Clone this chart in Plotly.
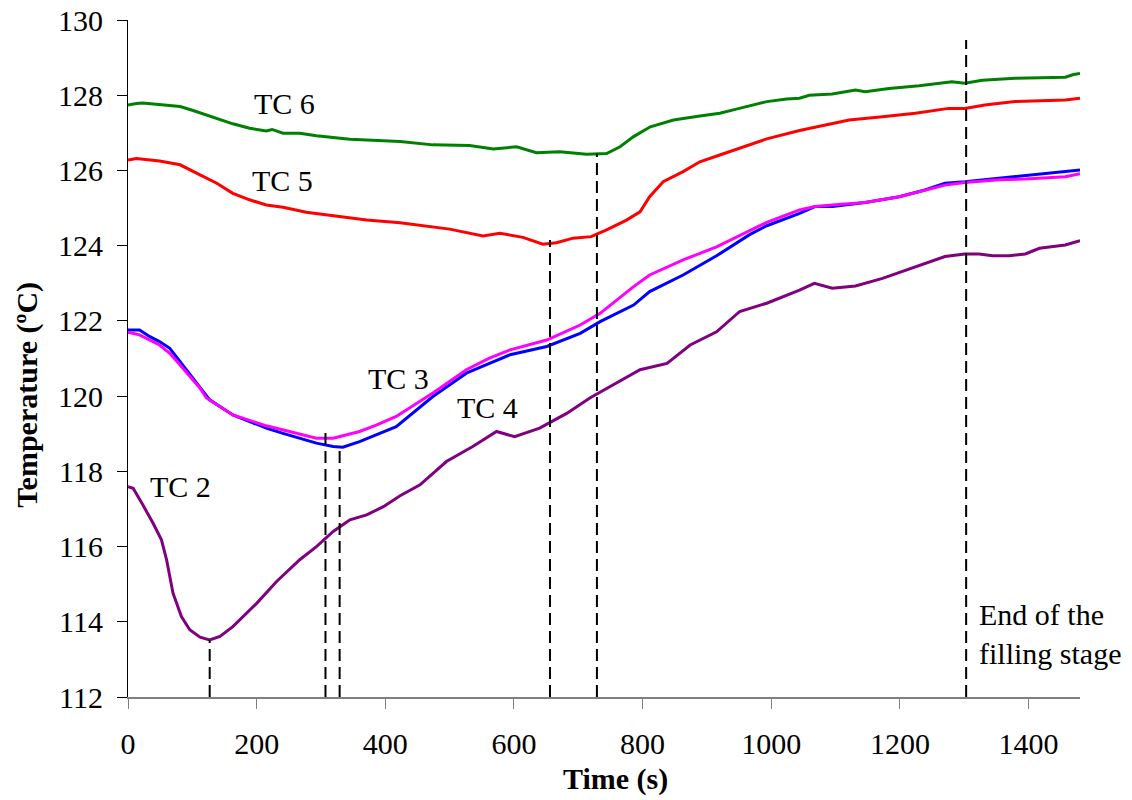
import plotly.graph_objects as go

# ---- data ----
t_tc6 = [0, 13, 23, 50, 81, 100, 122, 145, 163, 189, 215, 224, 241, 267, 293, 345, 423, 474, 531, 568, 604, 635, 671, 713, 744, 765, 786, 812, 848, 889, 920, 941, 967, 993, 1024, 1044, 1059, 1095, 1131, 1146, 1183, 1230, 1281, 1301, 1328, 1379, 1457, 1470, 1480]
v_tc6 = [127.74, 127.78, 127.79, 127.75, 127.70, 127.60, 127.47, 127.35, 127.24, 127.12, 127.05, 127.09, 126.99, 126.99, 126.92, 126.83, 126.77, 126.68, 126.66, 126.57, 126.63, 126.47, 126.50, 126.43, 126.45, 126.63, 126.90, 127.16, 127.34, 127.45, 127.52, 127.61, 127.71, 127.83, 127.90, 127.92, 128.0, 128.03, 128.14, 128.09, 128.18, 128.25, 128.36, 128.32, 128.40, 128.45, 128.48, 128.55, 128.58]

t_tc5 = [0, 13, 49, 81, 112, 138, 163, 189, 215, 241, 277, 319, 371, 423, 448, 500, 552, 578, 614, 645, 666, 692, 720, 744, 775, 796, 811, 832, 863, 889, 920, 967, 993, 1044, 1075, 1121, 1173, 1224, 1276, 1301, 1332, 1379, 1457, 1480]
v_tc5 = [126.28, 126.32, 126.25, 126.15, 125.88, 125.66, 125.39, 125.22, 125.08, 125.02, 124.89, 124.79, 124.68, 124.61, 124.55, 124.44, 124.26, 124.33, 124.22, 124.04, 124.08, 124.20, 124.24, 124.42, 124.68, 124.90, 125.30, 125.70, 125.97, 126.23, 126.41, 126.68, 126.84, 127.06, 127.18, 127.34, 127.43, 127.52, 127.65, 127.65, 127.74, 127.83, 127.87, 127.92]

t_tc4 = [0, 18, 34, 49, 65, 81, 96, 112, 127, 163, 215, 241, 267, 293, 319, 334, 360, 386, 417, 474, 526, 562, 594, 651, 703, 734, 786, 811, 863, 915, 967, 993, 1044, 1068, 1095, 1146, 1199, 1239, 1270, 1301, 1354, 1395, 1457, 1480]
v_tc4 = [121.76, 121.76, 121.58, 121.45, 121.27, 120.92, 120.61, 120.25, 119.90, 119.50, 119.15, 119.01, 118.88, 118.75, 118.66, 118.64, 118.79, 118.97, 119.19, 119.99, 120.61, 120.87, 121.10, 121.32, 121.67, 121.98, 122.42, 122.78, 123.22, 123.73, 124.30, 124.53, 124.86, 125.04, 125.04, 125.15, 125.30, 125.48, 125.66, 125.70, 125.79, 125.85, 125.97, 126.01]

t_tc3 = [0, 18, 49, 65, 81, 96, 112, 122, 163, 215, 241, 267, 293, 319, 334, 360, 386, 417, 474, 526, 562, 594, 651, 703, 734, 786, 811, 863, 915, 967, 993, 1044, 1068, 1095, 1146, 1199, 1239, 1270, 1301, 1354, 1395, 1457, 1480]
v_tc3 = [121.70, 121.63, 121.36, 121.14, 120.83, 120.52, 120.21, 119.95, 119.50, 119.21, 119.10, 118.97, 118.88, 118.88, 118.94, 119.06, 119.23, 119.46, 120.08, 120.70, 121.01, 121.23, 121.49, 121.89, 122.20, 122.91, 123.22, 123.62, 123.97, 124.40, 124.62, 124.95, 125.04, 125.08, 125.15, 125.30, 125.48, 125.61, 125.68, 125.75, 125.77, 125.83, 125.91]

t_tc2 = [0, 8, 23, 39, 52, 60, 70, 83, 96, 112, 127, 143, 163, 200, 231, 267, 293, 319, 345, 371, 397, 423, 454, 495, 536, 573, 601, 640, 682, 718, 796, 838, 874, 915, 951, 993, 1044, 1067, 1095, 1131, 1173, 1224, 1270, 1301, 1323, 1344, 1370, 1395, 1417, 1457, 1480]
v_tc2 = [117.59, 117.55, 117.11, 116.62, 116.18, 115.65, 114.76, 114.14, 113.79, 113.59, 113.52, 113.61, 113.87, 114.49, 115.07, 115.65, 116.0, 116.40, 116.71, 116.84, 117.06, 117.35, 117.64, 118.26, 118.66, 119.06, 118.92, 119.15, 119.54, 119.95, 120.70, 120.87, 121.36, 121.71, 122.25, 122.47, 122.82, 123.0, 122.87, 122.93, 123.13, 123.44, 123.71, 123.78, 123.78, 123.73, 123.73, 123.78, 123.93, 124.02, 124.13]

# dashed marker lines: time and top temperature
marker_t = [127, 307, 329, 656, 729, 1303]
marker_top = [113.5, 119.04, 118.65, 124.15, 126.45, 129.47]

# labels: text, x (time), y (temperature)
label_text = ["TC 6", "TC 5", "TC 3", "TC 4", "TC 2", "End of the<br>filling stage"]
label_x = [193, 190, 370, 508, 31, 1320]
label_y = [127.77, 125.72, 120.47, 119.70, 117.59, 113.68]

FONT = "Liberation Serif, Times New Roman, serif"
FS = 30

fig = go.Figure()
series = [
    ("TC 6", t_tc6, v_tc6, "#008000"),
    ("TC 5", t_tc5, v_tc5, "#FF0000"),
    ("TC 4", t_tc4, v_tc4, "#0000FF"),
    ("TC 3", t_tc3, v_tc3, "#FF00FF"),
    ("TC 2", t_tc2, v_tc2, "#800080"),
]
for name, t, v, c in series:
    fig.add_trace(go.Scatter(x=t, y=v, mode="lines", name=name,
                             line=dict(color=c, width=3), showlegend=False))

for mt, top in zip(marker_t, marker_top):
    fig.add_shape(type="line", xref="x", yref="y", x0=mt, x1=mt, y0=112, y1=top,
                  line=dict(color="black", width=2, dash="12px,6px"))

for txt, lx, ly in zip(label_text, label_x, label_y):
    fig.add_annotation(x=lx, y=ly, xref="x", yref="y", text=txt, showarrow=False,
                       xanchor="left", yanchor="middle", align="left",
                       font=dict(family=FONT, size=FS, color="black"))

# axis titles
fig.add_annotation(x=0.5116, y=-0.121, xref="paper", yref="paper", text="<b>Time (s)</b>",
                   showarrow=False, xanchor="center", yanchor="middle",
                   font=dict(family=FONT, size=FS, color="black"))
fig.add_annotation(x=-0.107, y=0.4468, xref="paper", yref="paper", text="<b>Temperature (ºC)</b>",
                   showarrow=False, xanchor="center", yanchor="middle", textangle=-90,
                   font=dict(family=FONT, size=FS, color="black"))

fig.update_layout(
    width=1132, height=800,
    margin=dict(l=128, r=52, t=20, b=103, autoexpand=False),
    paper_bgcolor="white", plot_bgcolor="white",
    font=dict(family=FONT, size=FS, color="black"),
    xaxis=dict(range=[0, 1480], tick0=0, dtick=200, showgrid=False, zeroline=False,
               automargin=False,
               showline=True, linecolor="#808080", linewidth=1.5,
               ticks="outside", ticklen=10, tickcolor="#808080", tickwidth=1,
               ticklabelstandoff=9, ticklabeloverflow="allow",
               tickfont=dict(family=FONT, size=FS, color="black")),
    yaxis=dict(range=[112, 130], tick0=112, dtick=2, showgrid=False, zeroline=False,
               automargin=False,
               showline=True, linecolor="black", linewidth=1,
               ticks="outside", ticklen=10, tickcolor="black", tickwidth=1,
               ticklabelstandoff=8, ticklabeloverflow="allow",
               tickfont=dict(family=FONT, size=FS, color="black")),
)

fig.write_html("out.html", config={"displayModeBar": False},
               post_script="document.body.style.margin='0';")
